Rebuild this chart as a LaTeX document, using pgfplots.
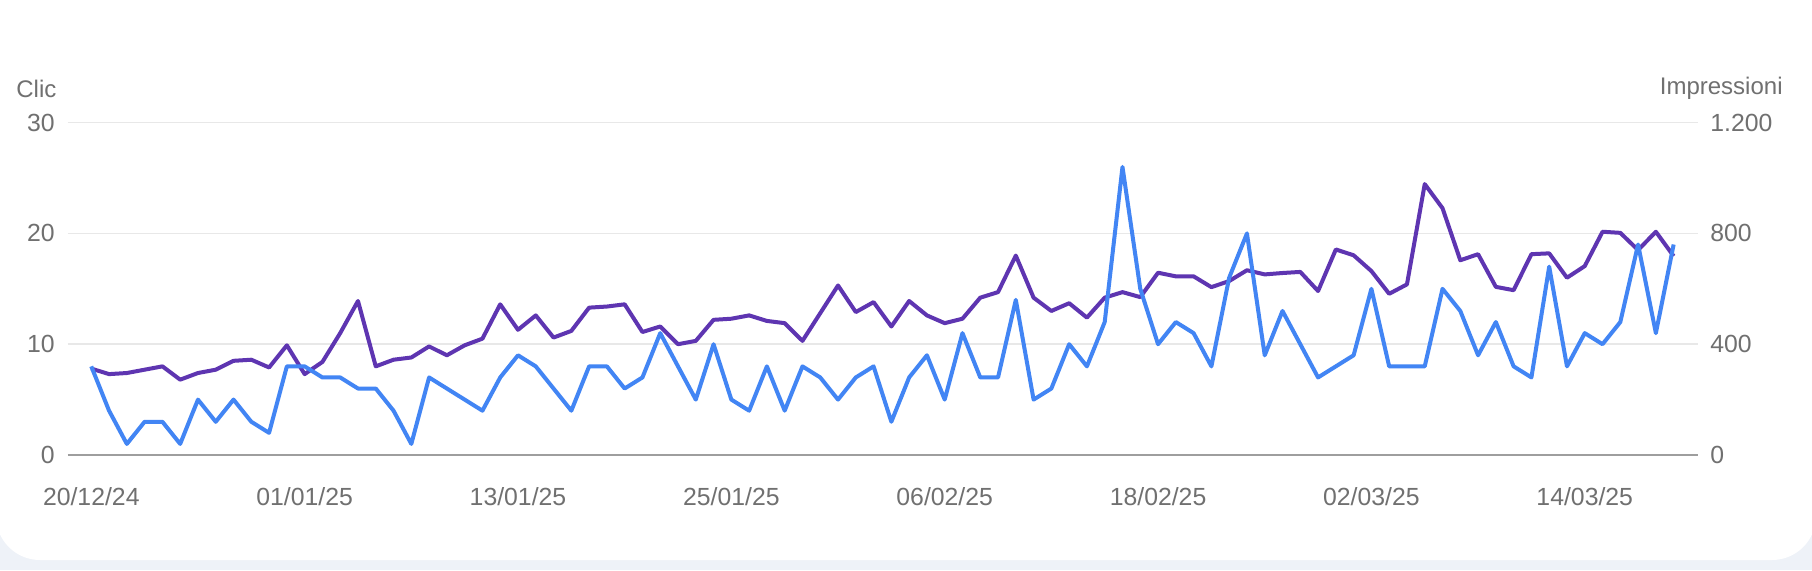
\documentclass[border=0pt]{standalone}
\usepackage{pgfplots}
\pgfplotsset{compat=1.18}
\usepackage{pgfplotstable}
\usepackage{fontspec}
\setmainfont{Liberation Sans}

\definecolor{clicblue}{HTML}{4285F4}
\definecolor{imprpurple}{HTML}{5E35B1}
\definecolor{labelgrey}{HTML}{707070}
\definecolor{gridgrey}{HTML}{E8E8E8}
\definecolor{basegrey}{HTML}{9E9E9E}
\definecolor{pagebg}{HTML}{EEF2F8}

% day 0 = 20/12/24
\pgfplotstableread{
day clic impr
0 8 312
1 4 292
2 1 296
3 3 308
4 3 320
5 1 272
6 5 296
7 3 308
8 5 340
9 3 344
10 2 316
11 8 396
12 8 292
13 7 336
14 7 440
15 6 556
16 6 320
17 4 344
18 1 352
19 7 392
20 6 360
21 5 396
22 4 420
23 7 544
24 9 452
25 8 504
26 6 424
27 4 448
28 8 532
29 8 536
30 6 544
31 7 444
32 11 464
33 8 400
34 5 412
35 10 488
36 5 492
37 4 504
38 8 484
39 4 476
40 8 412
41 7 512
42 5 612
43 7 516
44 8 552
45 3 464
46 7 556
47 9 504
48 5 476
49 11 492
50 7 568
51 7 588
52 14 720
53 5 568
54 6 520
55 10 548
56 8 496
57 12 568
58 26 588
59 15 570
60 10 658
61 12 645
62 11 645
63 8 606
64 16 628
65 20 667
66 9 652
67 13 657
68 10 661
69 7 592
70 8 742
71 9 721
72 15 664
73 8 582
74 8 616
75 8 978
76 15 891
77 13 703
78 9 725
79 12 607
80 8 595
81 7 725
82 17 728
83 8 640
84 11 682
85 10 806
86 12 802
87 19 740
88 11 806
89 19 718
}\gscdata

\begin{document}
\begin{tikzpicture}
\useasboundingbox (0,0) rectangle (906pt,285pt);
\begin{scope}
  \clip (0,0) rectangle (906pt,285pt);
  \fill[pagebg] (0,0) rectangle (906pt,285pt);
  \fill[white, rounded corners=22pt] (-2pt,5pt) rectangle (908pt,330pt);
\end{scope}

\pgfplotsset{gsc/.style={
  at={(34pt,57.5pt)}, anchor=south west,
  scale only axis, width=815pt, height=166.2pt,
  xmin=-1.31, xmax=90.37,
  axis line style={draw=none},
  major tick length=0pt,
  tick label style={font=\fontsize{12.4}{14}\selectfont, text=labelgrey},
}}

% Impressioni, right axis: drawn first so the grid sits under both lines
\begin{axis}[gsc,
  ymin=0, ymax=1200,
  axis y line*=right,
  axis x line*=bottom,
  ytick={0,400,800,1200},
  yticklabels={0,400,800,1.200},
  yticklabel style={anchor=west, inner sep=0pt, xshift=6pt},
  ymajorgrids, grid style={gridgrey, line width=0.85pt},
  xtick={0,12,...,84},
  xticklabels={20/12/24,01/01/25,13/01/25,25/01/25,06/02/25,18/02/25,02/03/25,14/03/25},
  xticklabel style={inner sep=0pt, anchor=north, yshift=-16pt},
]
\draw[basegrey, line width=1pt] (axis cs:-1.31,0) -- (axis cs:90.37,0);
\addplot[imprpurple, line width=2pt, line join=round] table[x=day,y=impr]{\gscdata};
\end{axis}

% Clic, left axis
\begin{axis}[gsc,
  ymin=0, ymax=30,
  axis y line*=left,
  axis x line=none,
  ytick={0,10,20,30},
  yticklabels={0,10,20,30},
  yticklabel style={anchor=east, inner sep=0pt, xshift=-6.5pt},
]
\addplot[clicblue, line width=2pt, line join=round] table[x=day,y=clic]{\gscdata};
\end{axis}

\node[anchor=west, inner sep=0pt, text=labelgrey, font=\fontsize{12}{14}\selectfont] at (8pt,240.75pt) {Clic};
\node[anchor=east, inner sep=0pt, text=labelgrey, font=\fontsize{12}{14}\selectfont] at (891.5pt,240.75pt) {Impressioni};
\end{tikzpicture}
\end{document}
